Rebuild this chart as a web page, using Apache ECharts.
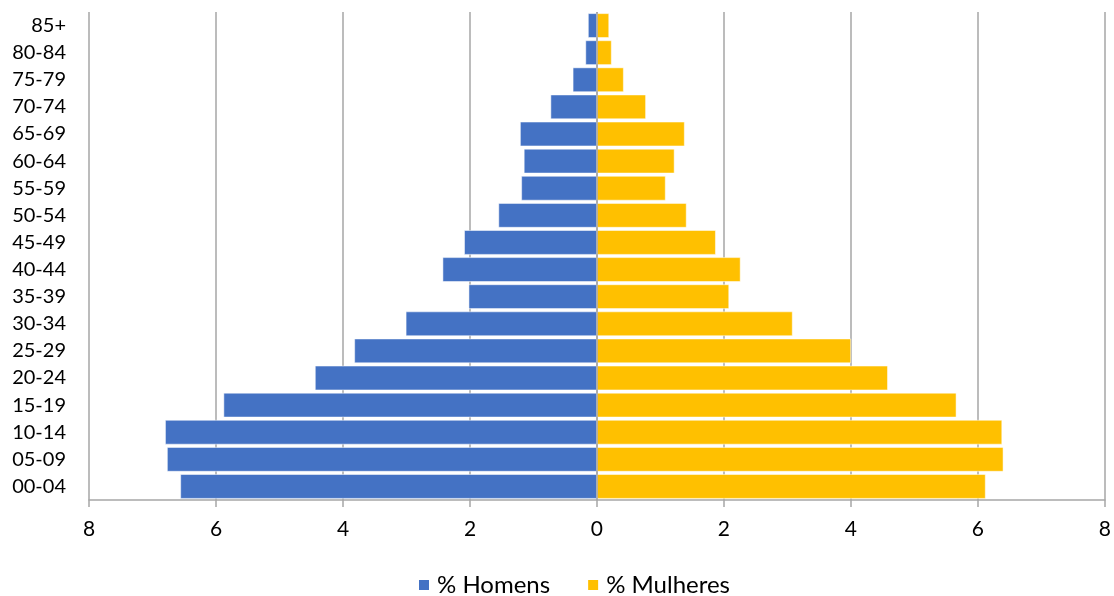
<!DOCTYPE html>
<html>
<head>
<meta charset="utf-8">
<script src="https://cdn.jsdelivr.net/npm/echarts@6/dist/echarts.min.js"></script>
<style>
  html, body { margin: 0; padding: 0; background: #fff; }
  #chart { width: 1114px; height: 596px; }
</style>
</head>
<body>
<div id="chart"></div>
<script>
// Age groups, youngest at the bottom
const ageGroups = ['00-04', '05-09', '10-14', '15-19', '20-24', '25-29', '30-34', '35-39',
  '40-44', '45-49', '50-54', '55-59', '60-64', '65-69', '70-74', '75-79', '80-84', '85+'];

// Share of the population (%) by sex
const homens = [6.56, 6.77, 6.80, 5.88, 4.44, 3.82, 3.01, 2.02, 2.43, 2.09, 1.55, 1.19, 1.15, 1.21, 0.73, 0.38, 0.18, 0.14];
const mulheres = [6.12, 6.40, 6.38, 5.66, 4.58, 4.00, 3.08, 2.08, 2.26, 1.87, 1.41, 1.08, 1.22, 1.38, 0.77, 0.42, 0.23, 0.19];

const xTicks = { min: -8, max: 8, interval: 2 };

const font = 'Lato, "Open Sans", sans-serif';
const chart = echarts.init(document.getElementById('chart'));

chart.setOption({
  animation: false,
  textStyle: { fontFamily: font },
  grid: { left: 89, right: 7, top: 12, bottom: 96, containLabel: false },
  legend: {
    top: 571,
    left: 417,
    padding: 0,
    itemWidth: 12,
    itemHeight: 12,
    itemGap: 36,
    icon: 'rect',
    textStyle: { fontSize: 24, lineHeight: 28, color: '#000', fontFamily: font, padding: [0, 0, 0, 2] },
    data: ['% Homens', '% Mulheres']
  },
  xAxis: {
    type: 'value',
    min: xTicks.min,
    max: xTicks.max,
    interval: xTicks.interval,
    axisLine: { show: true, lineStyle: { color: '#a6a6a6', width: 1.5 } },
    axisTick: { show: true, length: 7, lineStyle: { color: '#a6a6a6', width: 1.5 } },
    axisLabel: {
      color: '#000', fontSize: 21, margin: 19, fontFamily: font,
      formatter: v => String(Math.abs(v))
    },
    splitLine: { show: true, lineStyle: { color: '#a6a6a6', width: 1.5 } }
  },
  yAxis: {
    type: 'category',
    data: ageGroups,
    axisLine: { show: false },
    axisTick: { show: false },
    axisLabel: { color: '#000', fontSize: 20, margin: 23, fontFamily: font }
  },
  series: [
    {
      name: '% Homens',
      type: 'bar',
      stack: 'pop',
      barCategoryGap: '10%',
      itemStyle: { color: '#4472C4', borderColor: '#fff', borderWidth: 0.5 },
      data: homens.map(v => -v),
      markLine: {
        silent: true,
        symbol: 'none',
        label: { show: false },
        lineStyle: { color: '#a6a6a6', type: 'solid', width: 1.5 },
        data: [{ xAxis: 0 }]
      },
      z: 2
    },
    {
      name: '% Mulheres',
      type: 'bar',
      stack: 'pop',
      barCategoryGap: '10%',
      itemStyle: { color: '#FFC000', borderColor: '#fff', borderWidth: 0.5 },
      data: mulheres,
      z: 2
    }
  ]
});
</script>
</body>
</html>
